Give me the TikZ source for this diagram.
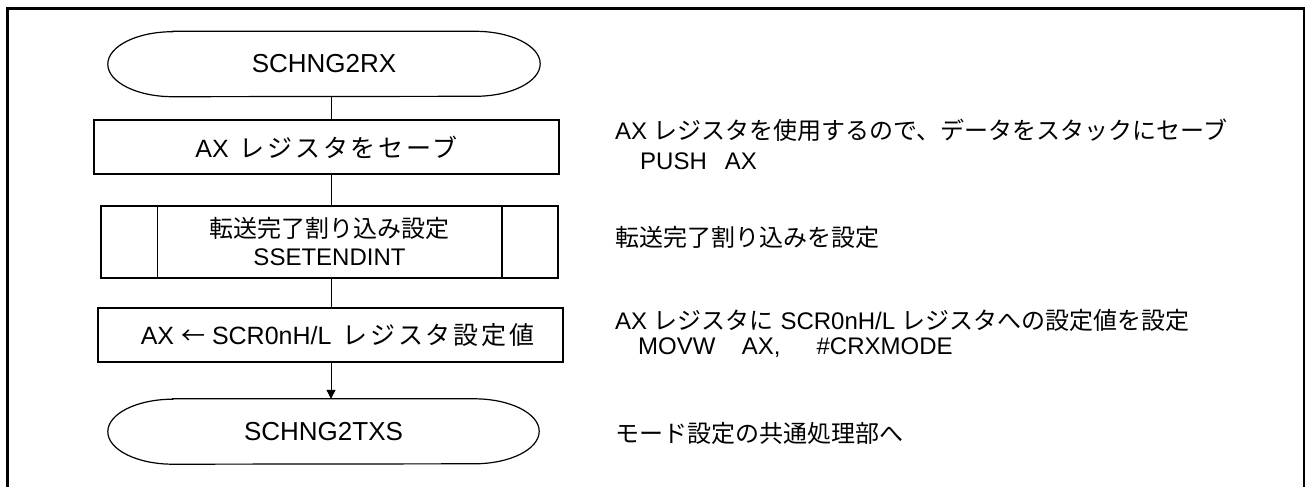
\documentclass[tikz,border=0pt]{standalone}
\usepackage{fontspec}
\setmainfont{Liberation Sans}
\newfontfamily\jp{Noto Sans CJK JP}
\newfontfamily\jpl[LetterSpace=11]{Noto Sans CJK JP}
\usetikzlibrary{arrows.meta}
\begin{document}
\begin{tikzpicture}[x=1pt,y=1pt,
  boxline/.style={draw=black,line width=1.5pt},
  termline/.style={draw=black,line width=1.2pt},
  conn/.style={draw=black,line width=1pt},
  frameline/.style={draw=black,line width=2.2pt},
  procbox/.style={boxline,rectangle,inner sep=0pt,font=\fontsize{24}{28}\selectfont,align=center},
  termbox/.style={rectangle,inner sep=0pt,font=\fontsize{26}{30}\selectfont},
  note/.style={anchor=west,inner sep=0pt,font=\fontsize{24}{28}\selectfont}]
\useasboundingbox (0,0) rectangle (1308,-487);
\fill[white] (0,0) rectangle (1308,-487);
% frame (open at the bottom)
\draw[frameline] (7.5,-487) -- (7.5,-8.5) -- (1304,-8.5) -- (1304,-487);
% axis of the flow
\coordinate (ax) at (331,0);
% start terminal
\node[termbox,minimum width=432pt,minimum height=65pt] (s) at (324,-64) {SCHNG2RX};
\draw[termline] ([xshift=65pt]s.north west) -- ([xshift=-65pt]s.north east)
  arc[start angle=90,end angle=-90,x radius=65pt,y radius=32.5pt]
  -- ([xshift=65pt]s.south west)
  arc[start angle=270,end angle=90,x radius=65pt,y radius=32.5pt] -- cycle;
% process 1
\node[procbox,minimum width=465pt,minimum height=54pt] (b1) at (326.5,-147)
  {\fontsize{25}{28}\selectfont AX\hspace{0.45em}{\jpl\fontsize{25}{28}\selectfont レジスタをセーブ}};
% subroutine
\node[procbox,minimum width=457pt,minimum height=72pt] (sub) at (329.5,-242) {{\jp 転送完了割り込み設定}\\SSETENDINT};
\draw[boxline] ([xshift=57pt]sub.north west) -- ([xshift=57pt]sub.south west);
\draw[boxline] ([xshift=-57pt]sub.north east) -- ([xshift=-57pt]sub.south east);
% process 3
\node[procbox,minimum width=465pt,minimum height=54pt] (b3) at (330.5,-335)
  {\fontsize{25}{28}\selectfont\hspace*{14pt}AX {\jpl\fontsize{24}{28}\selectfont ←} SCR0nH/L\hspace{0.45em}{\jpl\fontsize{25}{28}\selectfont レジスタ設定値}};
% end terminal
\node[termbox,minimum width=431pt,minimum height=65pt] (e) at (323.5,-431.5) {SCHNG2TXS};
\draw[termline] ([xshift=65pt]e.north west) -- ([xshift=-65pt]e.north east)
  arc[start angle=90,end angle=-90,x radius=65pt,y radius=32.5pt]
  -- ([xshift=65pt]e.south west)
  arc[start angle=270,end angle=90,x radius=65pt,y radius=32.5pt] -- cycle;
% connectors
\draw[conn] (s.south -| ax) -- (b1.north -| ax);
\draw[conn] (b1.south -| ax) -- (sub.north -| ax);
\draw[conn] (sub.south -| ax) -- (b3.north -| ax);
\draw[conn,-{Triangle[length=9pt,width=9pt]}] (b3.south -| ax) -- (e.north -| ax);
% notes
\node[note] (n1) at (615,-130) {AX {\jp レジスタを使用するので、データをスタックにセーブ}};
\node[note] (n1b) at (640,-161) {PUSH\hspace{0.75em}AX};
\node[note] (n2) at (615,-237) {\jp 転送完了割り込みを設定};
\node[note] (n3) at (615,-320) {AX {\jp レジスタに} SCR0nH/L {\jp レジスタへの設定値を設定}};
\node[note] (n3b) at (638,-348) {MOVW\hspace{1.1em}AX,\hspace{1.5em}\#CRXMODE};
\node[note] (n4) at (615,-433) {\jp モード設定の共通処理部へ};
\end{tikzpicture}
\end{document}
